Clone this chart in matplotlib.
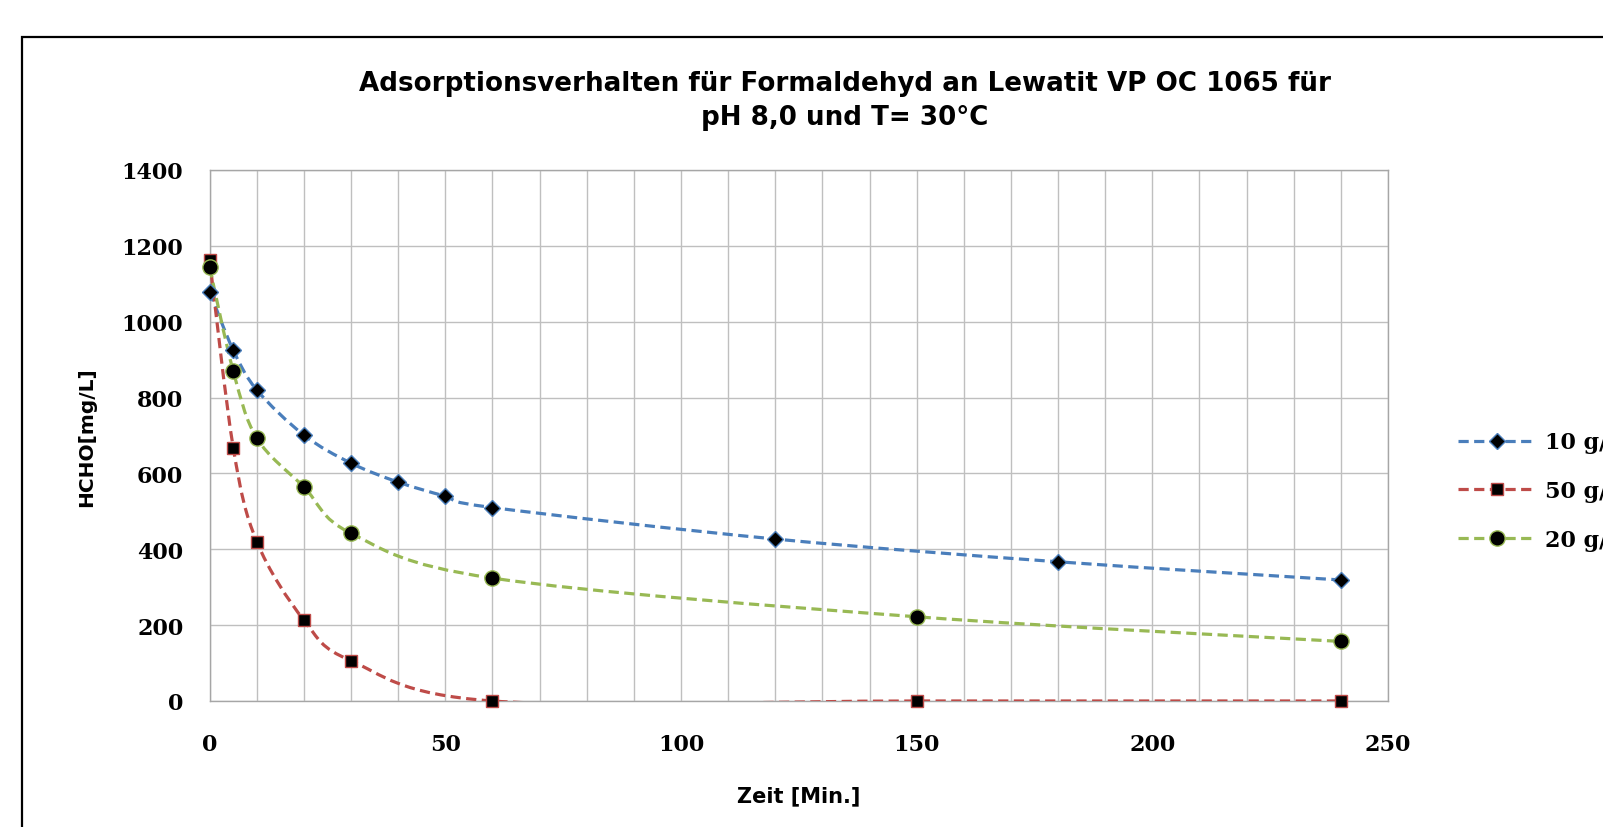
import numpy as np
import matplotlib.pyplot as plt
from matplotlib.path import Path
from matplotlib.patches import PathPatch, Rectangle
from matplotlib.lines import Line2D

# ---- data ----
t_10 = [0, 5, 10, 20, 30, 40, 50, 60, 120, 180, 240]
c_10 = [1079, 925, 820, 701, 627, 577, 540, 510, 427, 367, 319]

t_50 = [0, 5, 10, 20, 30, 60, 150, 240]
c_50 = [1162, 668, 420, 213, 106, 0, 0, 0]

t_20 = [0, 5, 10, 20, 30, 60, 150, 240]
c_20 = [1143, 870, 693, 564, 442, 324, 222, 157]

labels = ["10 g/L", "50 g/L", "20 g/L"]
title = "Adsorptionsverhalten für Formaldehyd an Lewatit VP OC 1065 für\npH 8,0 und T= 30°C"

SANS = ["DejaVu Sans"]
SERIF = ["DejaVu Serif"]
plt.rcParams["font.family"] = SANS
plt.rcParams["font.weight"] = "bold"


def smooth_path(x, y):
    """Excel-like smoothed line: cubic Bezier segments through the points."""
    p = np.column_stack([x, y]).astype(float)
    n = len(p)
    verts = [p[0]]
    codes = [Path.MOVETO]
    for i in range(n - 1):
        prev = p[i - 1] if i > 0 else p[i]
        nxt = p[i + 2] if i + 2 < n else p[i + 1]
        c1 = p[i] + (p[i + 1] - prev) / 6.0
        c2 = p[i + 1] - (nxt - p[i]) / 6.0
        verts += [c1, c2, p[i + 1]]
        codes += [Path.CURVE4] * 3
    return Path(verts, codes)


fig = plt.figure(figsize=(16.03, 8.28), dpi=100)
ax = fig.add_axes([0.1308, 0.1522, 0.7351, 0.6413])

series = [
    (t_10, c_10, "#4A7EBB", "D", 8, "#4A7EBB"),
    (t_50, c_50, "#BE4B48", "s", 9, "#BE4B48"),
    (t_20, c_20, "#98B954", "o", 11, "#98B954"),
]
LW = 2.3
dash = (0, (3.2, 1.7))
handles = []
for (x, y, col, mk, ms, ec), lab in zip(series, labels):
    patch = PathPatch(smooth_path(x, y), fill=False, edgecolor=col,
                      lw=LW, linestyle=dash, zorder=3)
    ax.add_patch(patch)
    ax.plot(x, y, linestyle="none", marker=mk, ms=ms, mfc="black",
            mec=ec, mew=1.0, zorder=4, clip_on=False)
    handles.append(Line2D([], [], color=col, lw=LW, linestyle=dash,
                          marker=mk, ms=ms, mfc="black", mec=ec, mew=1.0))

ax.set_xlim(0, 250)
ax.set_ylim(0, 1400)
ax.set_xticks(np.arange(0, 251, 50))
ax.set_xticks(np.arange(0, 251, 10), minor=True)
ax.set_yticks(np.arange(0, 1401, 200))
ax.grid(True, which="both", color="#BFBFBF", lw=1.0)
ax.set_axisbelow(True)
for s in ax.spines.values():
    s.set_color("#A6A6A6")
    s.set_linewidth(1.0)
ax.tick_params(which="both", length=0)
ax.tick_params(axis="x", pad=23, labelsize=16)
ax.tick_params(axis="y", pad=19, labelsize=16)
for lbl in ax.get_xticklabels() + ax.get_yticklabels():
    lbl.set_fontweight("bold")
    lbl.set_family(SERIF)

fig.text(799 / 1603, 1 - 796 / 828, "Zeit [Min.]", ha="center", va="center",
         fontsize=15, fontweight="bold")
fig.text(87 / 1603, 1 - 437 / 828, "HCHO[mg/L]", ha="center", va="center",
         rotation=90, fontsize=14.5, fontweight="bold")

fig.text(845 / 1603, 1 - 101 / 828, title, ha="center", va="center",
         fontsize=18.8, fontweight="bold", linespacing=1.42)

fig.legend(handles=handles, labels=labels, loc="center left",
           bbox_to_anchor=(1458 / 1603, 1 - 492 / 828), frameon=False,
           handlelength=3.5, handletextpad=0.4, labelspacing=1.2,
           borderpad=0, borderaxespad=0,
           prop={"family": SERIF, "weight": "bold", "size": 16})

# chart area border (runs past the right and bottom edge in the original)
fig.patches.append(Rectangle((22 / 1603, -0.2), 1.2, 0.954 + 0.2,
                             transform=fig.transFigure, fill=False,
                             edgecolor="black", lw=1.6))

fig.savefig("out.png", dpi=100)
